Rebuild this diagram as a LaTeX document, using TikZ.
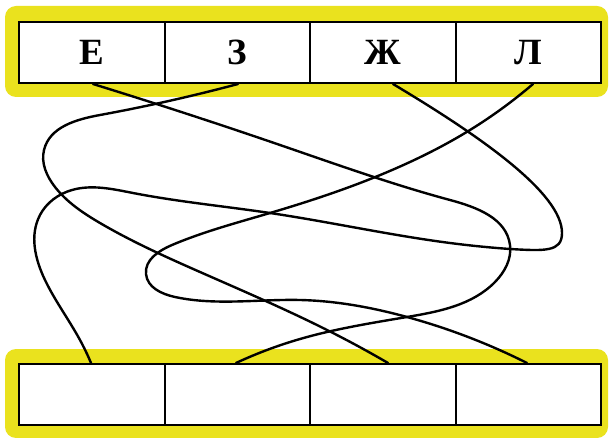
\documentclass[tikz,border=0pt]{standalone}
\usepackage{fontspec}
\setmainfont{Liberation Serif}
\usetikzlibrary{hobby}
\definecolor{band}{RGB}{234,226,30}
\begin{document}
\begin{tikzpicture}[x=1pt,y=-1pt,
  cell/.style={draw=black,line width=2pt,fill=white,minimum width=145.5pt,minimum height=61pt,inner sep=0pt,
    font=\bfseries\fontsize{37}{37}\selectfont},
  bandbox/.style={fill=band,rounded corners=11pt},
  wireline/.style={line width=2.4pt,line cap=round,line join=round},
  wire/.style={wireline,use Hobby shortcut}]
\useasboundingbox[fill=white] (0,0) rectangle (610,438);
% bands
\fill[bandbox] (5,6) rectangle (608,97);
\fill[bandbox] (5,349) rectangle (608,438);
% top cells
\node[cell] (T1) at (91.75,52.5) {Е};
\node[cell] (T2) at (237.25,52.5) {З};
\node[cell] (T3) at (382.75,52.5) {Ж};
\node[cell] (T4) at (528.25,52.5) {Л};
% bottom cells
\node[cell] (B1) at (91.75,394.5) {};
\node[cell] (B2) at (237.25,394.5) {};
\node[cell] (B3) at (382.75,394.5) {};
\node[cell] (B4) at (528.25,394.5) {};
% end points
\coordinate (t1) at (93,84);
\coordinate (t2) at (238,84);
\coordinate (t3) at (393,84);
\coordinate (t4) at (533,84);
\coordinate (b1) at (91,363);
\coordinate (b2) at (236,363);
\coordinate (b3) at (388,363);
\coordinate (b4) at (527,363);
\coordinate (cR) at (562,233);
\coordinate (cJ) at (510,249);
% wires
\draw[wire] (t1) .. (280,145) .. (450,200) .. (510,245) .. (495,282) .. (407,317) .. (300,339) .. (b2);
\draw[wire] (t2) .. (100,115) .. (44,150) .. (55,187) .. (100,223) .. (200,272) .. (333,333) .. (b3);
\draw[wireline] (t3) .. controls (480,136) and (562,193) .. (cR) .. controls (562,252) and (545,251) .. (cJ);
\draw[wire] (cJ) .. (450,243) .. (270,213) .. (133,193) .. (72,190) .. (40,215) .. (45,280) .. (80,340) .. (b1);
\draw[wire] (t4) .. (470,130) .. (410,162) .. (270,213) .. (172,245) .. (146,274) .. (175,297) .. (300,300) .. (407,317) .. (b4);
\end{tikzpicture}
\end{document}
